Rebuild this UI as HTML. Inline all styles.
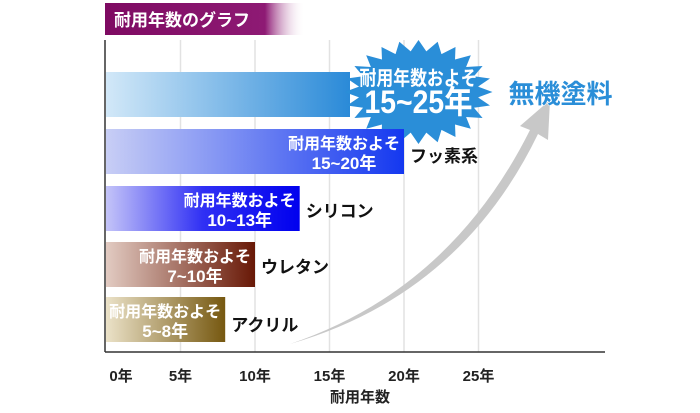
<!DOCTYPE html>
<html><head><meta charset="utf-8"><style>
body{margin:0;background:#fff;width:700px;height:408px;overflow:hidden;font-family:"Liberation Sans","Noto Sans CJK JP",sans-serif}
svg text{font-family:"Liberation Sans","Noto Sans CJK JP",sans-serif;font-weight:bold}
</style></head><body>
<svg width="700" height="408">
<defs>
<linearGradient id="ban" x1="0" x2="1"><stop offset="0" stop-color="#7e0a62"/><stop offset="0.8" stop-color="#8e1a74"/><stop offset="1" stop-color="#fff" stop-opacity="0"/></linearGradient>
<linearGradient id="g0" x1="0" x2="1"><stop offset="0" stop-color="#d2e8f8"/><stop offset="1" stop-color="#2a8ad8"/></linearGradient>
<linearGradient id="g1" x1="0" x2="1"><stop offset="0" stop-color="#c8cef5"/><stop offset="1" stop-color="#1438f0"/></linearGradient>
<linearGradient id="g2" x1="0" x2="1"><stop offset="0" stop-color="#c4c4f8"/><stop offset="0.5" stop-color="#3030f4"/><stop offset="1" stop-color="#0000ee"/></linearGradient>
<linearGradient id="g3" x1="0" x2="1"><stop offset="0" stop-color="#e2cbc2"/><stop offset="1" stop-color="#681806"/></linearGradient>
<linearGradient id="g4" x1="0" x2="1"><stop offset="0" stop-color="#ebe2c8"/><stop offset="1" stop-color="#765810"/></linearGradient>
</defs>
<rect x="105" y="3" width="200" height="32" fill="url(#ban)"/>
<text x="114" y="26" fill="#fff" font-size="17">耐用年数のグラフ</text>
<g id="grid"></g>
<line x1="105" y1="40" x2="105" y2="352" stroke="#333" stroke-width="1.5"/>
<line x1="105" y1="352" x2="605" y2="352" stroke="#333" stroke-width="1.5"/>
<path d="M290,344 Q450,290 530,130 L520,126 L550,100 L548,140 L538,134 Q460,295 290,344 Z" fill="#c8c8c8"/>
<g id="bars"></g>
<g id="ticks"></g>
<text x="360" y="402" text-anchor="middle" font-size="15" fill="#222">耐用年数</text>
</svg>
<script>
const categories=["無機塗料","フッ素系","シリコン","ウレタン","アクリル"];
const minYears=[15,15,10,7,5];
const maxYears=[25,20,13,10,8];
const tickValues=[0,5,10,15,20,25];
const NS="http://www.w3.org/2000/svg";
const x0=106,px=14.9;
const xs=v=>x0+v*px;
const rowY=[72,129,186,242,297],bh=45;
function mk(t,a,p){const e=document.createElementNS(NS,t);for(const k in a)e.setAttribute(k,a[k]);if(p)p.appendChild(e);return e;}
const grid=document.getElementById('grid'),bars=document.getElementById('bars'),ticks=document.getElementById('ticks');
tickValues.forEach((v,i)=>{
 if(v>0){const l=mk('line',{x1:xs(v),x2:xs(v),y1:40,y2:352,stroke:'#e2e2e2','stroke-width':1.5},grid);
 
 }
 const t=mk('text',{x:(v==0?121:xs(v)),y:381,'text-anchor':'middle','font-size':15,fill:'#222'},ticks);t.textContent=v+'年';
 
 
});
categories.forEach((c,i)=>{
 const y=rowY[i];const end=xs(maxYears[i]);
 const r=mk('rect',{x:106,y:y,width:(i==0?350-106:end-106),height:bh,fill:'url(#g'+i+')'},bars);
 
 
 if(i==0){
  const cx=end-60,cy=92,pts=[];
  for(let k=0;k<48;k++){const a=k*Math.PI/24,o=k%2==0;pts.push((cx+(o?74:60)*Math.cos(a))+','+(cy+(o?52:41)*Math.sin(a)));}
  const s=mk('polygon',{points:pts.join(' '),fill:'#2a8ed8'},bars);
  
  
  const t1=mk('text',{x:cx,y:cy-7,'text-anchor':'middle','font-size':20,fill:'#fff',textLength:118,lengthAdjust:'spacingAndGlyphs'},bars);t1.textContent='耐用年数およそ';
  
  
  const t2=mk('text',{x:cx,y:cy+21,'text-anchor':'middle','font-size':32,fill:'#fff',textLength:108,lengthAdjust:'spacingAndGlyphs'},bars);t2.textContent=minYears[i]+'~'+maxYears[i]+'年';
  
  
  const n=mk('text',{x:end+30,y:103,'font-size':26,fill:'#2a8ed8',stroke:'#fff','stroke-width':1,'paint-order':'stroke'},bars);n.textContent=c;
  
  
 }else{
  const t1=mk('text',{x:end-4,y:y+20,'text-anchor':'end','font-size':16,fill:'#fff'},bars);t1.textContent='耐用年数およそ';
  
  
  const t2=mk('text',{x:end-4-56,y:y+40,'text-anchor':'middle','font-size':17,fill:'#fff'},bars);t2.textContent=minYears[i]+'~'+maxYears[i]+'年';
  
  
  const n=mk('text',{x:end+6,y:y+(i==1?33:i==4?34:31),'font-size':17,fill:'#111'},bars);n.textContent=c;
  
  
 }
});
</script>
</body></html>
